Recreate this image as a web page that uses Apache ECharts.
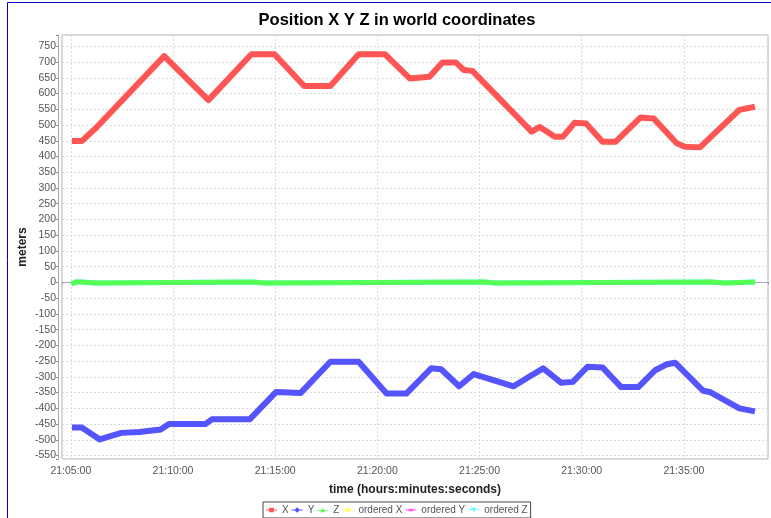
<!DOCTYPE html>
<html>
<head>
<meta charset="utf-8">
<script src="https://cdn.jsdelivr.net/npm/echarts@6/dist/echarts.min.js"></script>
<style>
    html, body { margin: 0; padding: 0; background: #fff; }
    #chart { width: 771px; height: 518px; }
</style>
</head>
<body>
<div id="chart"></div>
<script>
    // values (time of point, metres)
    const xTimes = ['21:05:12','21:05:32','21:06:15','21:09:34','21:11:44','21:13:50','21:14:58','21:16:25','21:17:42','21:19:05','21:20:22','21:21:35','21:22:33','21:23:11','21:23:50','21:24:14','21:24:39','21:27:33','21:27:57','21:28:41','21:29:05','21:29:39','21:30:13','21:31:01','21:31:40','21:32:53','21:33:31','21:34:39','21:35:03','21:35:47','21:37:43','21:38:20']
    const xValues = [449,449,492,719,579,725,725,624,624,725,725,648,653,699,699,675,672,479,494,463,463,507,505,447,447,524,521,442,431,429,548,556]

    const yTimes = ['21:05:12','21:05:32','21:06:25','21:07:28','21:08:21','21:09:24','21:09:48','21:11:35','21:11:54','21:13:45','21:15:03','21:16:15','21:17:42','21:19:05','21:20:27','21:21:25','21:22:38','21:23:07','21:24:00','21:24:43','21:26:40','21:27:28','21:28:07','21:29:00','21:29:34','21:30:17','21:31:01','21:31:55','21:32:47','21:33:36','21:34:10','21:34:34','21:35:56','21:36:16','21:37:43','21:38:20']
    const yValues = [-461,-461,-499,-478,-475,-467,-450,-450,-435,-435,-348,-351,-252,-252,-353,-353,-273,-276,-330,-291,-330,-298,-273,-319,-316,-268,-270,-332,-332,-279,-260,-255,-344,-348,-400,-408]

    const zTimes = ['21:05:08','21:05:14','21:05:30','21:05:34','21:06:12','21:06:16','21:13:54','21:13:58','21:14:28','21:14:32','21:25:14','21:25:18','21:25:45','21:25:49','21:36:20','21:36:24','21:36:58','21:37:02','21:38:22']
    const zValues = [-2,1,1,-2,-2,1,1,-2,-2,1,1,-2,-2,1,1,-2,-2,1,1]

    const seriesNames = ['X','Y','Z','ordered X','ordered Y','ordered Z']
    const seriesColors = ['#ff5555','#5555ff','#55ff55','#ffff55','#ff55ff','#55ffff']

    // legend icons: short line with the series shape on it
    const icons = [
        'path://M0,3.5H4V1H10V3.5H14V4.5H10V7H4V4.5H0Z',
        'path://M0,3.5H4L7,0.5L10,3.5H14V4.5H10L7,7.5L4,4.5H0Z',
        'path://M0,3.5H5.5L7,0.5L8.5,3.5H14V4.5H9L10,6.5H4L5,4.5H0Z',
        'path://M0,3.5H4L7,0.5L10,3.5H14V4.5H10L7,7.5L4,4.5H0Z',
        'path://M0,3.5H4V2.5H10V3.5H14V4.5H10V5.5H4V4.5H0Z',
        'path://M0,3.5H5L4,1.5H10L9,3.5H14V4.5H8.5L7,7.5L5.5,4.5H0Z'
    ]

    let toSec = s => {
        let p = s.split(':').map(Number)
        return p[0] * 3600 + p[1] * 60 + p[2]
    }
    let pad = n => (n < 10 ? '0' : '') + n
    let fmtTime = v => {
        v = Math.round(v)
        return pad(Math.floor(v / 3600)) + ':' + pad(Math.floor(v / 60) % 60) + ':' + pad(v % 60)
    }
    let pairs = (times, values) => times.map((t, i) => [toSec(t), values[i]])

    const lines = [pairs(xTimes, xValues), pairs(yTimes, yValues), pairs(zTimes, zValues)]

    const font = 'Liberation Sans'

    let chart = echarts.init(document.getElementById('chart'))

    let series = seriesNames.map((name, i) => {
        let s = {
            name,
            type: 'line',
            data: lines[i % 3],
            showSymbol: false,
            symbol: 'none',
            silent: true,
            animation: false,
            z: i < 3 ? 3 : 2,
            lineStyle: { color: seriesColors[i], width: i < 3 ? (i == 2 ? 5 : 6) : 5, join: 'round', cap: 'square' },
            itemStyle: { color: seriesColors[i] }
        }
        if (i == 2) {
            s.markLine = {
                silent: true,
                symbol: 'none',
                label: { show: false },
                animation: false,
                z: 1,
                lineStyle: { color: '#9a9aff', type: [2, 2], width: 1 },
                data: [{ yAxis: 0 }]
            }
        }
        return s
    })

    chart.setOption({
        backgroundColor: '#ffffff',
        animation: false,
        title: {
            text: 'Position X Y Z in world coordinates',
            left: 392,
            top: 7,
            textAlign: 'center',
            textStyle: { fontFamily: font, fontSize: 16.5, fontWeight: 'bold', color: '#000' }
        },
        legend: {
            left: 263,
            top: 502,
            padding: [3, 3],
            itemGap: 3,
            itemWidth: 11,
            itemHeight: 7,
            borderColor: '#444',
            borderWidth: 1,
            borderRadius: 0,
            selectedMode: false,
            textStyle: { fontFamily: font, fontSize: 10, color: '#555' },
            data: seriesNames.map((n, i) => ({ name: n, icon: icons[i], itemStyle: { color: seriesColors[i] } }))
        },
        grid: {
            left: 62,
            top: 35,
            right: -3,
            bottom: 59,
            show: true,
            backgroundColor: '#fff',
            borderColor: '#b4b4b4',
            borderWidth: 1
        },
        xAxis: {
            type: 'value',
            min: 75874,
            max: 77947,
            minInterval: 300,
            maxInterval: 300,
            offset: 4,
            name: 'time (hours:minutes:seconds)',
            nameLocation: 'middle',
            nameGap: 21,
            nameMoveOverlap: false,
            nameTextStyle: { fontFamily: font, fontSize: 12, fontWeight: 'bold', color: '#222' },
            axisLine: { show: true, lineStyle: { color: '#a8a8a8', width: 1 } },
            axisTick: { show: true, length: 2, lineStyle: { color: '#888' } },
            axisLabel: {
                fontFamily: font, fontSize: 10.5, color: '#555', margin: 3,
                formatter: v => (Math.round(v) % 300 == 0 ? fmtTime(v) : '')
            },
            splitLine: { show: true, lineStyle: { color: '#dadada', type: [2, 2], width: 1 } }
        },
        yAxis: {
            type: 'value',
            min: -561,
            max: 786,
            minInterval: 50,
            maxInterval: 50,
            offset: 4,
            name: 'meters',
            nameLocation: 'middle',
            nameGap: 29,
            nameMoveOverlap: false,
            nameTextStyle: { fontFamily: font, fontSize: 12, fontWeight: 'bold', color: '#222' },
            axisLine: { show: true, lineStyle: { color: '#a8a8a8', width: 1 } },
            axisTick: { show: true, length: 2, lineStyle: { color: '#888' } },
            axisLabel: {
                fontFamily: font, fontSize: 10.5, color: '#555', margin: 2,
                formatter: v => (Math.round(v) % 50 == 0 ? String(v) : '')
            },
            splitLine: { show: true, lineStyle: { color: '#dadada', type: [2, 2], width: 1 } }
        },
        graphic: [{
            type: 'rect',
            silent: true,
            z: 100,
            shape: { x: 7.5, y: 2.5, width: 900, height: 700 },
            style: { fill: null, stroke: '#0000c8', lineWidth: 1 }
        }],
        series
    })
</script>
</body>
</html>
